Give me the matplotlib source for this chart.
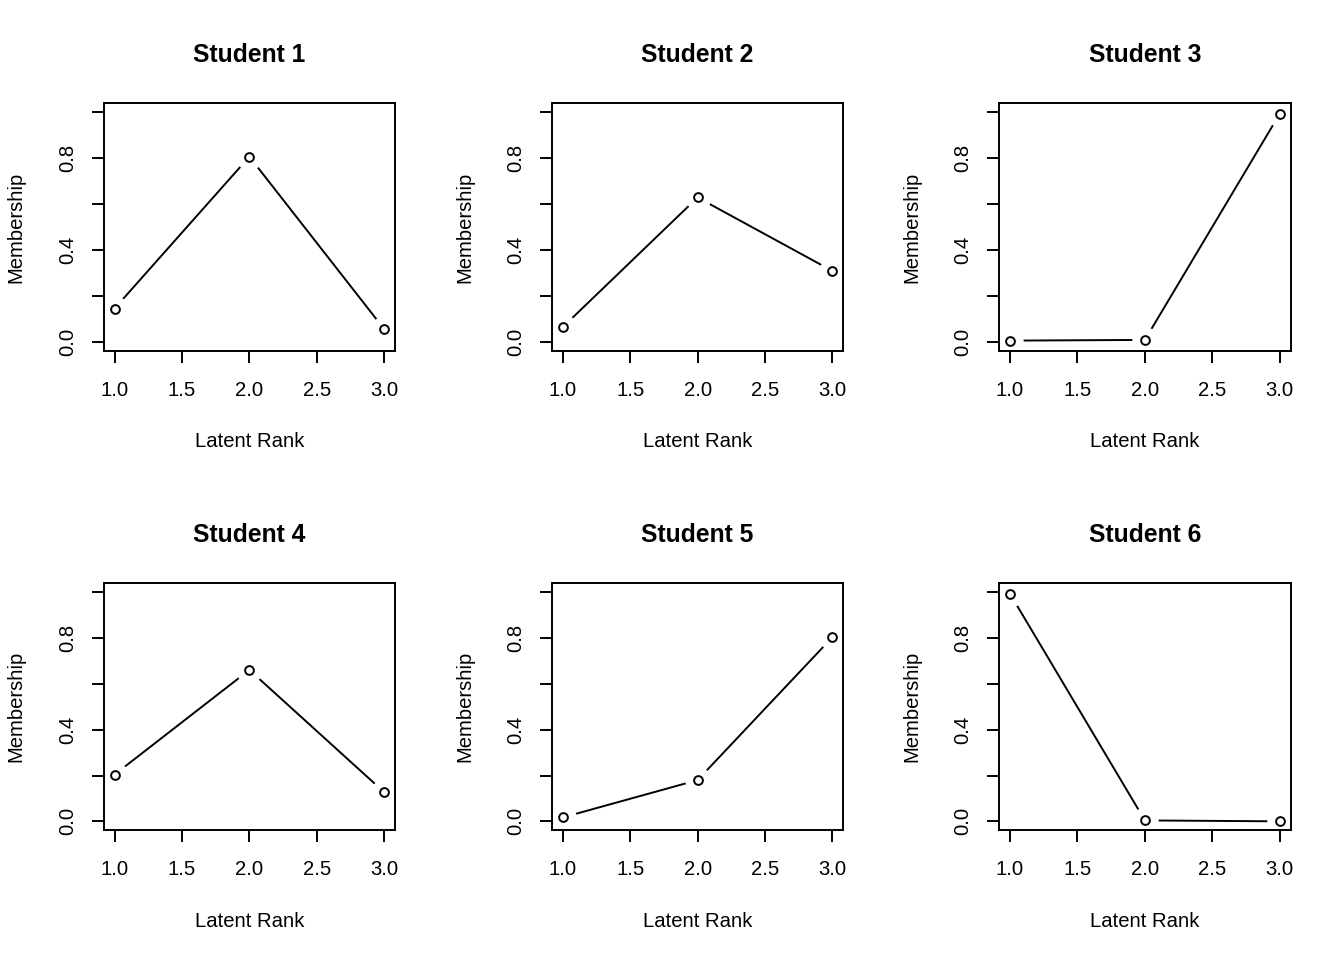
import matplotlib
matplotlib.use('Agg')
import matplotlib.pyplot as plt

plt.rcParams['font.family'] = ['Liberation Sans', 'DejaVu Sans']

# latent rank membership per student
ranks = [1, 2, 3]
students = ['Student 1', 'Student 2', 'Student 3', 'Student 4', 'Student 5', 'Student 6']
s1 = [0.144, 0.807, 0.054]
s2 = [0.063, 0.629, 0.308]
s3 = [0.004, 0.007, 0.994]
s4 = [0.204, 0.661, 0.127]
s5 = [0.017, 0.180, 0.804]
s6 = [0.993, 0.004, 0.000]
memberships = [s1, s2, s3, s4, s5, s6]

x_ticks = [1.0, 1.5, 2.0, 2.5, 3.0]
x_labels = ['1.0', '1.5', '2.0', '2.5', '3.0']
y_ticks = [0.0, 0.2, 0.4, 0.6, 0.8, 1.0]
y_labels = ['0.0', '', '0.4', '', '0.8', '']

fig = plt.figure(figsize=(13.44, 9.6), dpi=100)

lefts = [0.0772, 0.4107, 0.7435]
bottoms = [0.6347, 0.1349]
w, h = 0.2167, 0.2577
lw = 1.4

for i, (name, vals) in enumerate(zip(students, memberships)):
    ax = fig.add_axes([lefts[i % 3], bottoms[i // 3], w, h])
    # R type="b": line with gaps around the points
    ax.plot(ranks, vals, color='black', lw=lw, zorder=2)
    ax.plot(ranks, vals, ls='none', marker='o', ms=18, mfc='white', mec='white', zorder=2.1)
    ax.plot(ranks, vals, ls='none', marker='o', ms=6.3, mfc='white', mec='black', mew=lw, zorder=2.2)

    ax.set_xlim(0.92, 3.08)
    ax.set_ylim(-0.04, 1.04)
    ax.set_xticks(x_ticks)
    ax.set_xticklabels(x_labels)
    ax.set_yticks(y_ticks)
    ax.set_yticklabels(y_labels, rotation=90, va='center')
    ax.tick_params(direction='out', length=8.6, width=lw, labelsize=14.6)
    ax.tick_params(axis='x', pad=13)
    ax.tick_params(axis='y', pad=10.5)
    for sp in ax.spines.values():
        sp.set_linewidth(lw)
        sp.set_zorder(3)

    ax.set_title(name, fontsize=17.8, fontweight='bold', y=1.166, pad=0)
    ax.set_xlabel('Latent Rank', fontsize=14.6)
    ax.set_ylabel('Membership', fontsize=14.6)
    ax.xaxis.set_label_coords(0.5, -0.33)
    ax.yaxis.set_label_coords(-0.268, 0.5)

fig.savefig('out.png', dpi=100, facecolor='white')
